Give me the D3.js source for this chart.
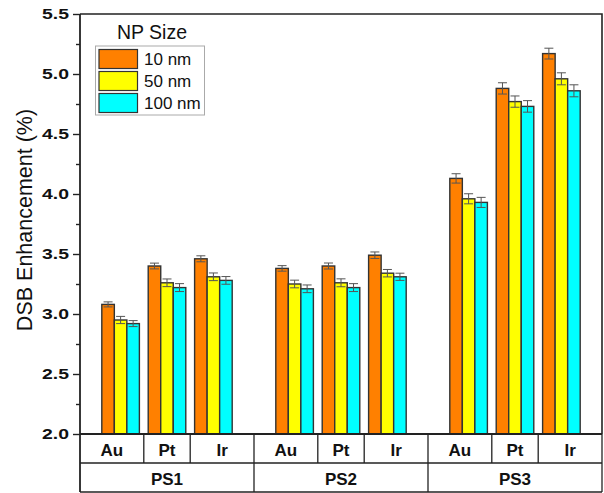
<!DOCTYPE html>
<html>
<head>
<meta charset="utf-8">
<script src="https://cdn.jsdelivr.net/npm/d3@7/dist/d3.min.js"></script>
<style>
  html, body { margin: 0; padding: 0; background: #fff; }
  svg { display: block; font-family: "Liberation Sans", Arial, sans-serif; }
</style>
</head>
<body>
<svg id="chart" width="604" height="493"></svg>
<script>
// Photosensitizer groups, nanoparticle metals and particle sizes
const groups = ["PS1", "PS2", "PS3"];
const metals = ["Au", "Pt", "Ir"];
const sizes = ["10 nm", "50 nm", "100 nm"];

// DSB enhancement (%) per size, ordered PS1 Au/Pt/Ir, PS2 Au/Pt/Ir, PS3 Au/Pt/Ir
const val10 = [3.08, 3.40, 3.46, 3.38, 3.40, 3.49, 4.13, 4.88, 5.17];
const val50 = [2.95, 3.26, 3.31, 3.25, 3.26, 3.34, 3.96, 4.77, 4.96];
const val100 = [2.92, 3.22, 3.28, 3.21, 3.22, 3.31, 3.93, 4.73, 4.86];

// Error bar half-widths (%)
const err10 = [0.021, 0.024, 0.025, 0.023, 0.025, 0.027, 0.039, 0.047, 0.045];
const err50 = [0.030, 0.032, 0.032, 0.032, 0.033, 0.031, 0.042, 0.047, 0.050];
const err100 = [0.025, 0.033, 0.032, 0.032, 0.033, 0.030, 0.042, 0.048, 0.050];

// Y axis ticks
const yTicks = [2.0, 2.5, 3.0, 3.5, 4.0, 4.5, 5.0, 5.5];
const yMinorTicks = [2.25, 2.75, 3.25, 3.75, 4.25, 4.75, 5.25];

(function () {
  const colors = ["#FF8000", "#FFFF00", "#00FFFF"];
  const seriesVals = [val10, val50, val100];
  const seriesErrs = [err10, err50, err100];

  const svg = d3.select("#chart");
  const plotL = 80, plotR = 602, plotT = 14, plotB = 434;
  const row1 = 463, row2 = 492;

  const y = d3.scaleLinear().domain([2.0, 5.5]).range([plotB, plotT]);

  const xGroup = d3.scaleBand().domain(groups).range([plotL, plotR]).padding(0);
  const xMetal = d3.scaleBand().domain(metals).range([0, xGroup.bandwidth()])
    .paddingInner(0.19).paddingOuter(0.47);
  const xSize = d3.scaleBand().domain(sizes).range([0, xMetal.bandwidth()]).padding(0);

  // Flat records for every bar
  const records = [];
  groups.forEach((g, gi) => {
    metals.forEach((m, mi) => {
      sizes.forEach((s, si) => {
        const idx = gi * metals.length + mi;
        records.push({ g, m, s, si, v: seriesVals[si][idx], e: seriesErrs[si][idx] });
      });
    });
  });
  const barX = d => xGroup(d.g) + xMetal(d.m) + xSize(d.s);

  // Bars
  svg.append("g").selectAll("rect").data(records).join("rect")
    .attr("x", barX)
    .attr("y", d => y(d.v))
    .attr("width", xSize.bandwidth())
    .attr("height", d => y(2.0) - y(d.v))
    .attr("fill", d => colors[d.si])
    .attr("stroke", "#333")
    .attr("stroke-width", 1.4);

  // Error bars
  const eb = svg.append("g").attr("stroke", "#555").attr("stroke-width", 1).attr("fill", "none");
  const capW = 4.5;
  records.forEach(d => {
    const cx = barX(d) + xSize.bandwidth() / 2;
    eb.append("line").attr("x1", cx).attr("x2", cx).attr("y1", y(d.v + d.e)).attr("y2", y(d.v - d.e));
    eb.append("line").attr("x1", cx - capW).attr("x2", cx + capW).attr("y1", y(d.v + d.e)).attr("y2", y(d.v + d.e));
    eb.append("line").attr("x1", cx - capW).attr("x2", cx + capW).attr("y1", y(d.v - d.e)).attr("y2", y(d.v - d.e));
  });

  // Frame: top and right edges
  svg.append("path")
    .attr("d", `M${plotL},${plotT}H${plotR}V${plotB}`)
    .attr("fill", "none").attr("stroke", "#222").attr("stroke-width", 1.6);

  // Y axis with major and minor ticks
  const yAxis = svg.append("g").attr("transform", `translate(${plotL},0)`)
    .call(d3.axisLeft(y).tickValues(yTicks).tickFormat(d3.format(".1f")).tickSize(7).tickPadding(4));
  yAxis.select(".domain").remove();
  yAxis.selectAll(".tick line").attr("stroke", "#222").attr("stroke-width", 1.4);
  yAxis.selectAll(".tick text")
    .attr("font-size", 15.5).attr("font-weight", "bold").attr("fill", "#111")
    .attr("font-family", "Liberation Sans, Arial, sans-serif")
    .attr("textLength", 27).attr("lengthAdjust", "spacingAndGlyphs");
  svg.append("g").attr("transform", `translate(${plotL},0)`)
    .call(d3.axisLeft(y).tickValues(yMinorTicks).tickFormat("").tickSize(4))
    .call(g => g.select(".domain").remove())
    .selectAll(".tick line").attr("stroke", "#222").attr("stroke-width", 1.4);

  // Axis lines (left axis runs down through the category table)
  svg.append("line").attr("x1", plotL).attr("x2", plotL).attr("y1", plotT).attr("y2", row2)
    .attr("stroke", "#222").attr("stroke-width", 1.8);
  svg.append("line").attr("x1", plotL).attr("x2", plotR).attr("y1", plotB).attr("y2", plotB)
    .attr("stroke", "#222").attr("stroke-width", 1.8);

  // Category table beneath the axis
  const tbl = svg.append("g").attr("stroke", "#222").attr("stroke-width", 1.3);
  tbl.append("line").attr("x1", plotL).attr("x2", plotR).attr("y1", row1).attr("y2", row1);
  tbl.append("line").attr("x1", plotL).attr("x2", plotR).attr("y1", row2).attr("y2", row2);
  tbl.append("line").attr("x1", plotR).attr("x2", plotR).attr("y1", plotB).attr("y2", row2);

  const labels = svg.append("g").attr("font-size", 17).attr("font-weight", "bold")
    .attr("fill", "#111").attr("text-anchor", "middle");

  groups.forEach((g, gi) => {
    const gx = xGroup(g);
    if (gi > 0) tbl.append("line").attr("x1", gx).attr("x2", gx).attr("y1", plotB).attr("y2", row2);
    // Cell edges sit midway between neighbouring metal clusters
    const edges = [gx];
    metals.forEach((m, mi) => {
      if (mi > 0) {
        const mid = gx + (xMetal(metals[mi - 1]) + xMetal(m) + xMetal.bandwidth()) / 2;
        edges.push(mid);
        tbl.append("line").attr("x1", mid).attr("x2", mid).attr("y1", plotB).attr("y2", row1);
      }
    });
    edges.push(gx + xGroup.bandwidth());
    metals.forEach((m, mi) => {
      labels.append("text").attr("x", (edges[mi] + edges[mi + 1]) / 2).attr("y", 456).text(m);
    });
    labels.append("text").attr("x", gx + xGroup.bandwidth() / 2).attr("y", 484.5).text(g);
  });

  // Y axis title
  svg.append("text")
    .attr("transform", `translate(32,${(plotT + plotB) / 2 - 4}) rotate(-90)`)
    .attr("text-anchor", "middle").attr("font-size", 21.5).attr("fill", "#111")
    .text("DSB Enhancement (%)");

  // Legend
  const lg = svg.append("g");
  lg.append("text").attr("x", 152).attr("y", 38.5).attr("text-anchor", "middle")
    .attr("font-size", 19.5).attr("fill", "#111").text("NP Size");
  lg.append("rect").attr("x", 95.5).attr("y", 46).attr("width", 109).attr("height", 69)
    .attr("fill", "#fff").attr("stroke", "#aaa").attr("stroke-width", 1);
  sizes.forEach((s, i) => {
    const ry = 49.5 + i * 22;
    lg.append("rect").attr("x", 99).attr("y", ry).attr("width", 38.5).attr("height", 19)
      .attr("fill", colors[i]).attr("stroke", "#333").attr("stroke-width", 1.2);
    lg.append("text").attr("x", 144).attr("y", ry + 15.5).attr("font-size", 17)
      .attr("fill", "#111").text(s);
  });
})();
</script>
</body>
</html>
